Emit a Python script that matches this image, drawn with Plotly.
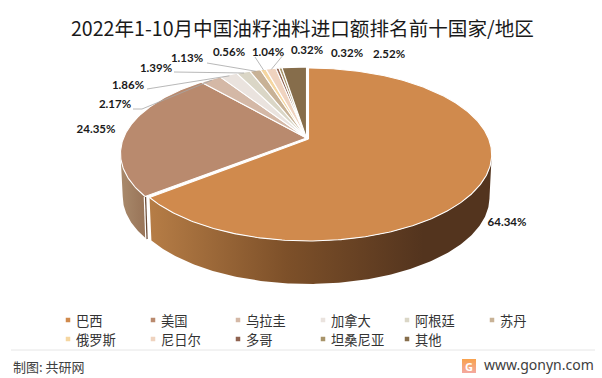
import math
import plotly.graph_objects as go

title = "2022年1-10月中国油籽油料进口额排名前十国家/地区"
names = ["巴西", "美国", "乌拉圭", "加拿大", "阿根廷", "苏丹", "俄罗斯", "尼日尔", "多哥", "坦桑尼亚", "其他"]
shares = [64.34, 24.35, 2.17, 1.86, 1.39, 1.13, 0.56, 1.04, 0.32, 0.32, 2.52]
colors = ["#D08A4D", "#B98A6E", "#D4B8A6", "#EAE3DE", "#DAD6C6", "#C8B296",
          "#F5D6A0", "#EFD3BF", "#8F6350", "#A8946A", "#866D4B"]
labels = [f"{v:.2f}%" for v in shares]

# label centres (px in the 602x378 frame)
label_xy = [(507, 223), (96, 130), (115, 105), (128, 86), (156, 69), (187, 59),
            (229, 53), (268, 53), (307, 51), (347, 54), (389, 55)]
# leader elbows: label side start, elbow
leaders = {2: [(133, 109), (142, 109)], 3: [(147, 89)], 4: [(174, 72)], 5: [(207, 63)],
           6: [(255, 57)], 7: [(284, 54)]}

CX, CY = 306.5, 138.0
A, K, B = 83.7, 0.179, 183.0
DEPTH = 43
BRAZIL_SX = 0.985


def proj(theta_deg, r=1.0, dx=0.0, dy=0.0, sx=1.0):
    t = math.radians(theta_deg)
    u, v = r * math.sin(t), r * math.cos(t)
    s = 1 / (1 + K * v)
    return CX + B * u * s * sx + dx, CY - A * v * s + dy


def arc(a0, a1, dx=0.0, dy=0.0, sx=1.0):
    n = max(2, int(abs(a1 - a0) * 1.5))
    return [proj(a0 + (a1 - a0) * i / n, 1.0, dx, dy, sx) for i in range(n + 1)]


fig = go.Figure()
edges = [0]
total = sum(shares)
for v in shares:
    edges.append(edges[-1] + v * 360 / total)
OFF = [(2, 1)] + [(0, 0)] * 10
SX = [BRAZIL_SX] + [1.0] * 10


def side(a0, a1, off, sx, col_kw):
    top = arc(a0, a1, off[0], off[1], sx)
    bot = [(CX + (x - CX) * 0.988, y + DEPTH) for x, y in reversed(top)]
    pts = top + bot + [top[0]]
    fig.add_trace(go.Scatter(x=[p[0] for p in pts], y=[p[1] for p in pts], mode="lines",
                             line=dict(width=0), fill="toself", hoverinfo="skip", **col_kw))


side(100.3, edges[1], OFF[0], SX[0], dict(fillgradient=dict(
    type="horizontal",
    colorscale=[[0, "#B67D46"], [0.4, "#7D5029"], [0.8, "#53341E"], [1, "#53341E"]])))
side(edges[1], 259.7, OFF[1], 1.0, dict(fillgradient=dict(
    type="horizontal", colorscale=[[0, "#A98A6C"], [1, "#977256"]])))

# cut face between the two large slices
cut = proj(edges[1], 1.0, 1, 0.5)
fig.add_trace(go.Scatter(x=[cut[0] - 0.6, cut[0] - 0.6 + 1.5], y=[cut[1], cut[1] + DEPTH - 1], mode="lines",
                         line=dict(color="#6A4A36", width=1.4), hoverinfo="skip"))
fig.add_trace(go.Scatter(x=[cut[0] - 1.8, cut[0] - 1.8 + 1.5], y=[cut[1], cut[1] + DEPTH - 1], mode="lines",
                         line=dict(color="#FFFFFF", width=1.2), hoverinfo="skip"))

# top faces
for i in range(len(shares)):
    dx, dy = OFF[i]
    pts = [(CX + dx, CY + dy)] + arc(edges[i], edges[i + 1], dx, dy, SX[i]) + [(CX + dx, CY + dy)]
    fig.add_trace(go.Scatter(x=[p[0] for p in pts], y=[p[1] for p in pts], mode="lines",
                             line=dict(color="#FFFFFF", width=1.1), fill="toself",
                             fillcolor=colors[i], hoverinfo="skip"))

# leader lines
for i, start in leaders.items():
    mid = (edges[i] + edges[i + 1]) / 2
    pts = start + [proj(mid, 0.985)]
    fig.add_trace(go.Scatter(x=[p[0] for p in pts], y=[p[1] for p in pts], mode="lines",
                             line=dict(color="#A6A6A6", width=0.8), hoverinfo="skip"))

# value labels
fig.add_trace(go.Scatter(x=[p[0] for p in label_xy], y=[p[1] for p in label_xy], mode="text",
                         text=labels, textposition="middle center", hoverinfo="skip",
                         textfont=dict(family="Lato", size=11.5, color="#1A1A1A", weight="bold")))

# legend
col_x = [68, 153, 238, 323, 407, 492]
row_y = [320, 339]
lx = [col_x[i % 6] for i in range(len(names))]
ly = [row_y[i // 6] for i in range(len(names))]
fig.add_trace(go.Scatter(x=lx, y=ly, mode="markers",
                         marker=dict(symbol="square", size=4.5, color=colors, line=dict(width=0)),
                         hoverinfo="skip"))
for x, y, n in zip(lx, ly, names):
    fig.add_annotation(x=x + 6, y=y, text=n, showarrow=False, xanchor="left", yanchor="middle",
                       font=dict(family="Noto Sans CJK SC", size=13.3, color="#333333"))

# logo tile
fig.add_trace(go.Scatter(x=[462, 476, 476, 462, 462], y=[359, 359, 373, 373, 359], mode="lines",
                         line=dict(width=0), fill="toself", hoverinfo="skip",
                         fillgradient=dict(type="vertical",
                                           colorscale=[[0, "#F4A9A0"], [1, "#F8A24C"]])))

fig.add_annotation(x=302, y=27.5, text=title, showarrow=False, xanchor="center", yanchor="middle",
                   font=dict(family="Noto Sans CJK SC", size=19.6, color="#1A1A1A"))
fig.add_annotation(x=11, y=366, text="制图: 共研网", showarrow=False, xanchor="left", yanchor="middle",
                   font=dict(family="Noto Sans CJK SC", size=13, color="#404040"))
fig.add_annotation(x=596, y=364, text="www.gonyn.com", showarrow=False, xanchor="right", yanchor="middle",
                   font=dict(family="Noto Sans", size=14, color="#404040"))
fig.add_annotation(x=469, y=366, text="G", showarrow=False, xanchor="center", yanchor="middle",
                   font=dict(family="Noto Sans", size=11, color="#FFFFFF", weight="bold"))

fig.add_shape(type="line", x0=11, x1=595, y0=350, y1=350, line=dict(color="#E6E6E6", width=1), layer="below")

fig.update_layout(width=602, height=378, margin=dict(l=0, r=0, t=0, b=0),
                  plot_bgcolor="white", paper_bgcolor="white", showlegend=False,
                  xaxis=dict(range=[0, 602], visible=False, fixedrange=True),
                  yaxis=dict(range=[378, 0], visible=False, fixedrange=True))
fig.write_html("out.html", config=dict(displayModeBar=False),
               post_script="document.documentElement.style.overflow='hidden';document.body.style.margin='0';document.body.style.overflow='hidden';")
